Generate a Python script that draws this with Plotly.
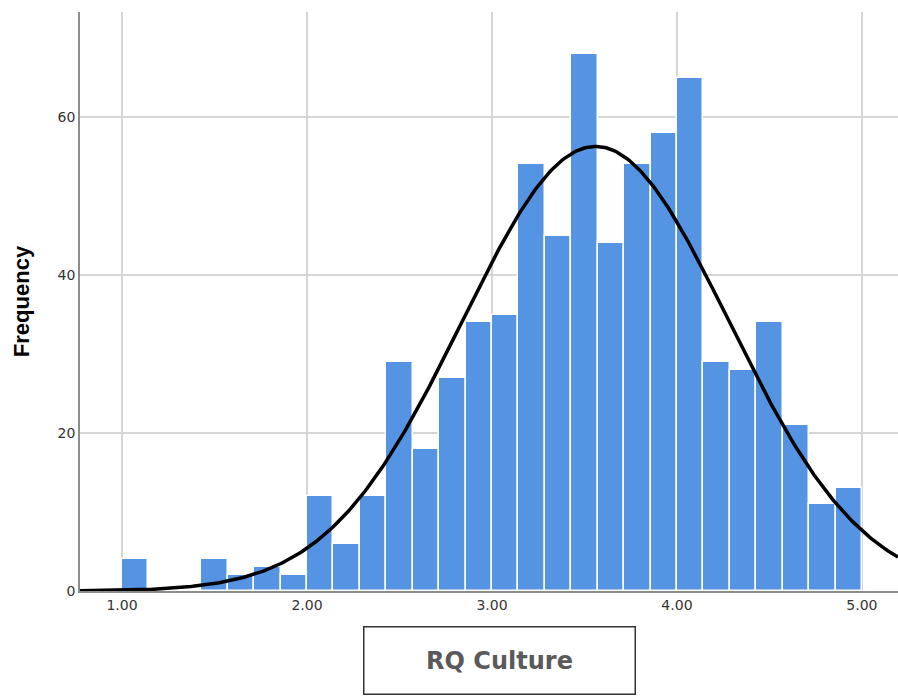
import numpy as np
import plotly.graph_objects as go

# Histogram counts, 28 bins of width 1/7 starting at 1.00
counts = [4, 0, 0, 4, 2, 3, 2,
          12, 6, 12, 29, 18, 27, 34,
          35, 54, 45, 68, 44, 54, 58,
          65, 29, 28, 34, 21, 11, 13]
bin_start = 1.0
bin_width = 1.0 / 7.0

# Normal curve parameters
curve_mean = 3.56
curve_sd = 0.721

x_ticks = [1, 2, 3, 4, 5]
x_tick_labels = ["1.00", "2.00", "3.00", "4.00", "5.00"]
y_ticks = [0, 20, 40, 60]
y_tick_labels = ["0", "20", "40", "60"]

x_min, x_max = 0.773, 5.195
y_min, y_max = 0, 73.3

N = sum(counts)
centers = [bin_start + bin_width * (i + 0.5) for i in range(len(counts))]

xs = np.linspace(x_min, x_max, 400)
ys = N * bin_width / (curve_sd * np.sqrt(2 * np.pi)) * np.exp(-0.5 * ((xs - curve_mean) / curve_sd) ** 2)

fig = go.Figure()
fig.add_trace(go.Bar(
    x=centers, y=counts, width=bin_width,
    marker=dict(color="#5594E3", line=dict(color="white", width=1.5)),
    hoverinfo="x+y",
))
fig.add_trace(go.Scatter(
    x=xs, y=ys, mode="lines",
    line=dict(color="black", width=3.5),
    hoverinfo="skip",
))

plot_h = 696 - 12 - 105

fig.update_layout(
    width=898, height=696,
    margin=dict(l=80, r=0, t=12, b=105),
    paper_bgcolor="white", plot_bgcolor="white",
    showlegend=False,
    bargap=0,
    font=dict(family="DejaVu Sans", size=14, color="#333333"),
    xaxis=dict(
        range=[x_min, x_max],
        tickvals=x_ticks, ticktext=x_tick_labels,
        showgrid=True, gridcolor="#D5D5D5", gridwidth=1.5,
        showline=True, linecolor="#8C8C8C", linewidth=1.5,
        ticks="", zeroline=False,
        tickfont=dict(family="DejaVu Sans", size=14, color="#333333"),
    ),
    yaxis=dict(
        range=[y_min, y_max],
        tickvals=y_ticks, ticktext=y_tick_labels,
        showgrid=True, gridcolor="#D5D5D5", gridwidth=1.5,
        showline=True, linecolor="#8C8C8C", linewidth=1.5,
        ticks="", zeroline=False,
        title=dict(text="<b>Frequency</b>", font=dict(family="Liberation Sans", size=22, color="black"), standoff=22),
        tickfont=dict(family="DejaVu Sans", size=14, color="#333333"),
    ),
    annotations=[dict(
        text="<b>RQ Culture</b>",
        xref="paper", yref="paper",
        x=(499 - 80) / 818, y=-(660 - 591) / plot_h,
        xanchor="center", yanchor="middle",
        showarrow=False,
        width=268, height=64,
        bordercolor="#333333", borderwidth=1.5, borderpad=1,
        bgcolor="white",
        font=dict(family="DejaVu Sans", size=24, color="#5A5A5A"),
    )],
)

fig.write_html(
    "out.html",
    config={"displayModeBar": False},
    post_script="document.body.style.margin='0';document.body.style.overflow='hidden';",
)
